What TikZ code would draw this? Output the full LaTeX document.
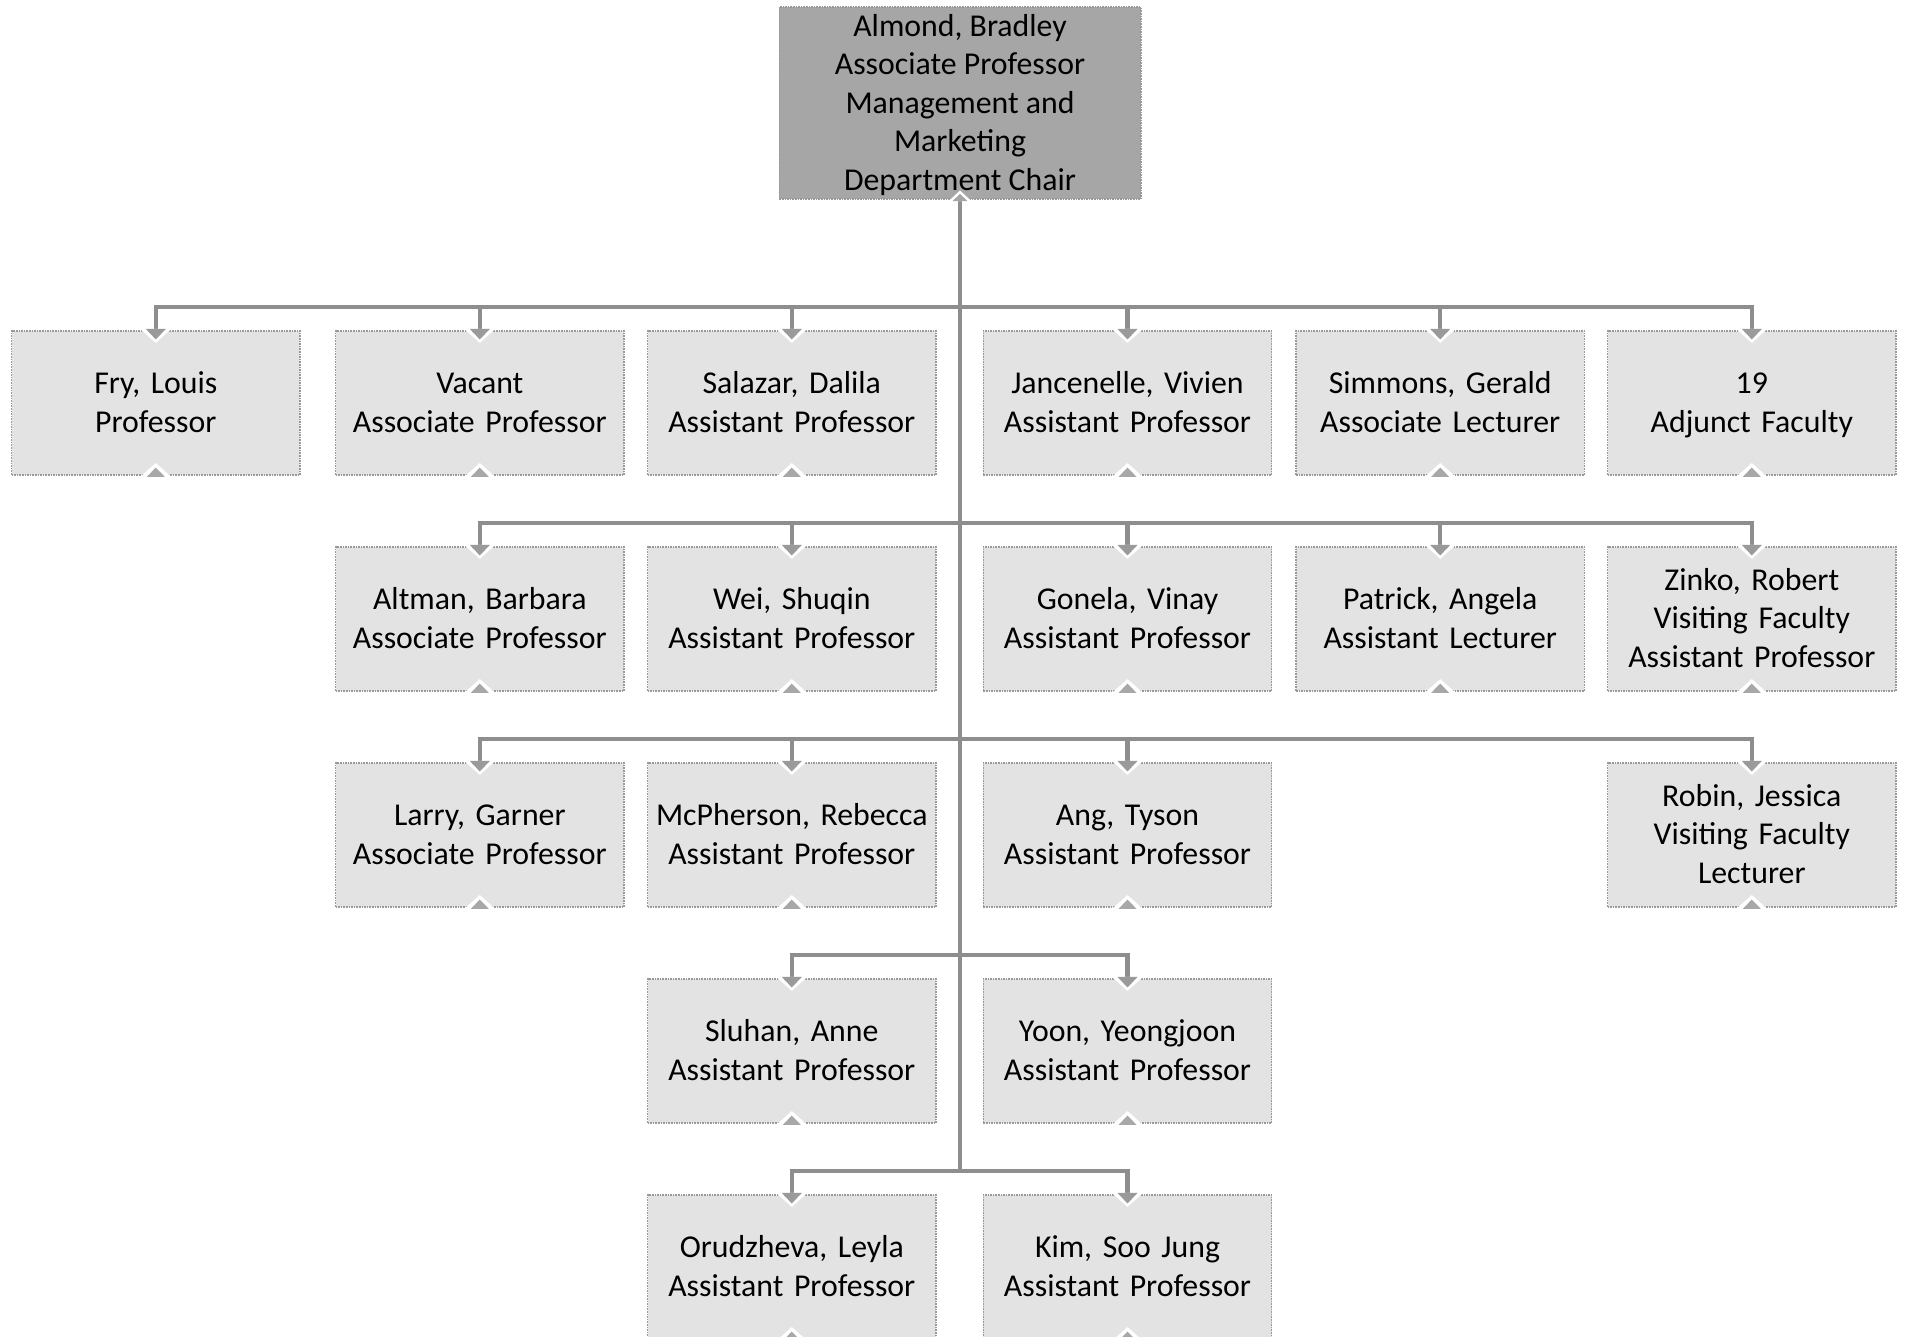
\documentclass[tikz,border=0pt]{standalone}
\usepackage{fontspec}
\setmainfont{Carlito}
\usetikzlibrary{calc}
\definecolor{linegray}{HTML}{8E8E8E}
\definecolor{boxfill}{HTML}{E3E3E3}
\definecolor{topfill}{HTML}{A6A6A6}
\definecolor{bordergray}{HTML}{999999}
\definecolor{markdown}{HTML}{9A9A9A}
\definecolor{markup}{HTML}{A8A8A8}
\newcommand{\lstrut}{\rule[-7pt]{0pt}{34pt}}
\newcommand{\downmark}[1]{%
  \fill[white] ($(#1.north)+(-15.5,-1)$) -- ($(#1.north)+(0,13)$) -- ($(#1.north)+(15.5,-1)$) -- cycle;
  \fill[markdown] ($(#1.north)+(-10,-1)$) -- ($(#1.north)+(0,9.5)$) -- ($(#1.north)+(10,-1)$) -- cycle;}
\newcommand{\upmark}[1]{%
  \fill[white] ($(#1.south)+(-15.5,1)$) -- ($(#1.south)+(0,-12.8)$) -- ($(#1.south)+(15.5,1)$) -- cycle;
  \fill[markup] ($(#1.south)+(-9,1)$) -- ($(#1.south)+(0,-8.3)$) -- ($(#1.south)+(9,1)$) -- cycle;}
\newcommand{\childmarks}[1]{\downmark{#1}\upmark{#1}}
\begin{document}
\begin{tikzpicture}[x=1pt,y=-1pt,
  txt/.style={font=\fontsize{31.8}{38.5}\selectfont, align=center, inner sep=0pt,
    execute at begin node=\lstrut, execute at end node=\lstrut},
  staff/.style={txt, rectangle, fill=boxfill, draw=bordergray, densely dotted, line width=1.6pt,
    minimum width=288.3pt, minimum height=144.3pt, text width=288.3pt},
  chairbox/.style={rectangle, fill=topfill, draw=bordergray, densely dotted, line width=1.6pt,
    minimum width=361.4pt, minimum height=192pt, inner sep=0pt},
  conn/.style={draw=linegray, line width=4.3pt, solid},
]
\useasboundingbox (0,0) rectangle (1905,1337);

% chair
\node[chairbox] (chair) at (960,103.3) {};

% row 1
\node[staff] (fry) at (155.8,402.9) {Fry, Louis\\Professor};
\node[staff] (vacant) at (479.8,402.9) {Vacant\\Associate Professor};
\node[staff] (salazar) at (791.8,402.9) {Salazar, Dalila\\Assistant Professor};
\node[staff] (jancenelle) at (1127.5,402.9) {Jancenelle, Vivien\\Assistant Professor};
\node[staff] (simmons) at (1440.2,402.9) {Simmons, Gerald\\Associate Lecturer};
\node[staff] (adjunct) at (1751.8,402.9) {19\\Adjunct Faculty};
% row 2
\node[staff] (altman) at (479.8,618.9) {Altman, Barbara\\Associate Professor};
\node[staff] (wei) at (791.8,618.9) {Wei, Shuqin\\Assistant Professor};
\node[staff] (gonela) at (1127.5,618.9) {Gonela, Vinay\\Assistant Professor};
\node[staff] (patrick) at (1440.2,618.9) {Patrick, Angela\\Assistant Lecturer};
\node[staff] (zinko) at (1751.8,618.9) {Zinko, Robert\\Visiting Faculty\\Assistant Professor};
% row 3
\node[staff] (larry) at (479.8,834.9) {Larry, Garner\\Associate Professor};
\node[staff] (mcpherson) at (791.8,834.9) {McPherson, Rebecca\\Assistant Professor};
\node[staff] (ang) at (1127.5,834.9) {Ang, Tyson\\Assistant Professor};
\node[staff] (robin) at (1751.8,834.9) {Robin, Jessica\\Visiting Faculty\\Lecturer};
% row 4
\node[staff] (sluhan) at (791.8,1050.9) {Sluhan, Anne\\Assistant Professor};
\node[staff] (yoon) at (1127.5,1050.9) {Yoon, Yeongjoon\\Assistant Professor};
% row 5
\node[staff] (orudzheva) at (791.8,1266.9) {Orudzheva, Leyla\\Assistant Professor};
\node[staff] (kim) at (1127.5,1266.9) {Kim, Soo Jung\\Assistant Professor};

% bus junctions on the trunk
\coordinate (b1) at (960,306.7);
\coordinate (b2) at (960,522.7);
\coordinate (b3) at (960,738.7);
\coordinate (b4) at (960,954.7);
\coordinate (b5) at (960,1170.7);

% connectors
\draw[conn] (chair.south) -- (b5);
\foreach \c in {fry,vacant,salazar,jancenelle,simmons,adjunct} {\draw[conn] (b1) -| (\c.north);}
\foreach \c in {altman,wei,gonela,patrick,zinko} {\draw[conn] (b2) -| (\c.north);}
\foreach \c in {larry,mcpherson,ang,robin} {\draw[conn] (b3) -| (\c.north);}
\foreach \c in {sluhan,yoon} {\draw[conn] (b4) -| (\c.north);}
\foreach \c in {orudzheva,kim} {\draw[conn] (b5) -| (\c.north);}

% markers
\foreach \c in {fry,vacant,salazar,jancenelle,simmons,adjunct,altman,wei,gonela,patrick,zinko,larry,mcpherson,ang,robin,sluhan,yoon,orudzheva,kim} {\childmarks{\c}}
\fill[white] ($(chair.south)+(-11.5,1)$) -- ($(chair.south)+(0,-9.6)$) -- ($(chair.south)+(11.5,1)$) -- cycle;
\fill[topfill] ($(chair.south)+(-7.5,1)$) -- ($(chair.south)+(0,-6.2)$) -- ($(chair.south)+(7.5,1)$) -- cycle;

% chair text
\node[txt] (chairtext) at ($(chair.center)+(0,2.5)$) {Almond, Bradley\\Associate Professor\\Management and\\Marketing\\Department Chair};
\end{tikzpicture}
\end{document}
